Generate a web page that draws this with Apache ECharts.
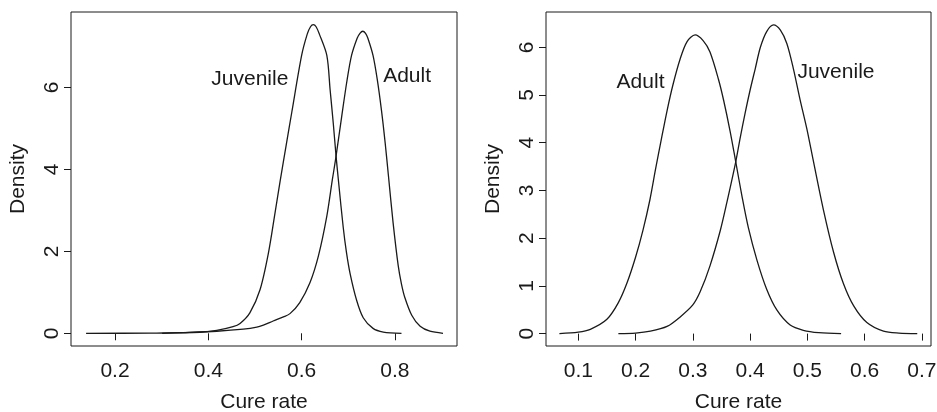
<!DOCTYPE html>
<html>

<head>
    <meta charset="utf-8">
    <title>Cure rate density</title>
    <script src="https://cdn.jsdelivr.net/npm/echarts/dist/echarts.min.js"></script>
    <style>
        body { margin: 0; background: #fff; }
        #main { width: 937px; height: 412px; }
    </style>
</head>

<body>
    <div id="main"></div>
    <script>
        // left panel: density curves
        var leftJuvX = [0.138, 0.275, 0.382, 0.418, 0.453, 0.468, 0.489, 0.511, 0.529, 0.543, 0.554, 0.567, 0.579, 0.6, 0.612, 0.619, 0.625, 0.631, 0.638, 0.654, 0.661, 0.668, 0.674, 0.68, 0.689, 0.696, 0.704, 0.718, 0.732, 0.753, 0.775, 0.814];
        var leftJuvY = [0, 0.005, 0.025, 0.07, 0.16, 0.24, 0.5, 1.07, 1.97, 2.94, 3.72, 4.6, 5.4, 6.78, 7.3, 7.48, 7.53, 7.48, 7.3, 6.78, 5.95, 5.1, 4.3, 3.6, 2.6, 1.98, 1.45, 0.8, 0.38, 0.12, 0.03, 0];
        var leftAdultX = [0.301, 0.346, 0.418, 0.475, 0.504, 0.518, 0.539, 0.561, 0.575, 0.596, 0.618, 0.636, 0.654, 0.666, 0.673, 0.686, 0.697, 0.707, 0.719, 0.725, 0.731, 0.737, 0.742, 0.753, 0.762, 0.771, 0.779, 0.786, 0.796, 0.807, 0.814, 0.821, 0.836, 0.854, 0.875, 0.903];
        var leftAdultY = [0, 0.016, 0.05, 0.1, 0.15, 0.2, 0.3, 0.4, 0.48, 0.75, 1.24, 1.89, 2.86, 3.76, 4.26, 5.3, 6.15, 6.78, 7.2, 7.32, 7.37, 7.32, 7.2, 6.78, 6.2, 5.45, 4.65, 3.85, 2.7, 1.65, 1.2, 0.88, 0.44, 0.17, 0.05, 0];

        // right panel
        var rightAdultX = [0.067, 0.1, 0.121, 0.15, 0.17, 0.185, 0.2, 0.213, 0.225, 0.235, 0.245, 0.255, 0.265, 0.278, 0.29, 0.304, 0.318, 0.33, 0.345, 0.354, 0.365, 0.375, 0.386, 0.397, 0.412, 0.429, 0.447, 0.47, 0.493, 0.52, 0.559];
        var rightAdultY = [0, 0.03, 0.09, 0.3, 0.65, 1.06, 1.6, 2.17, 2.8, 3.45, 4.07, 4.67, 5.2, 5.76, 6.12, 6.26, 6.14, 5.9, 5.32, 4.88, 4.25, 3.6, 2.87, 2.22, 1.54, 0.93, 0.49, 0.18, 0.07, 0.02, 0];
        var rightJuvX = [0.17, 0.2, 0.226, 0.255, 0.278, 0.3, 0.313, 0.33, 0.348, 0.3595, 0.375, 0.383, 0.391, 0.4, 0.409, 0.418, 0.429, 0.441, 0.453, 0.4642, 0.4757, 0.4874, 0.499, 0.51, 0.528, 0.546, 0.563, 0.581, 0.604, 0.633, 0.66, 0.692];
        var rightJuvY = [0, 0.01, 0.05, 0.15, 0.35, 0.6, 0.88, 1.42, 2.16, 2.75, 3.6, 4.12, 4.6, 5.1, 5.55, 6.0, 6.33, 6.47, 6.36, 6.08, 5.55, 4.9, 4.3, 3.65, 2.6, 1.7, 1.05, 0.58, 0.23, 0.05, 0.01, 0];

        // tick labels
        var leftXTicks = [0.2, 0.4, 0.6, 0.8];
        var leftYTicks = [0, 2, 4, 6];
        var rightXTicks = [0.1, 0.2, 0.3, 0.4, 0.5, 0.6, 0.7];
        var rightYTicks = [0, 1, 2, 3, 4, 5, 6];

        // curve annotations [x, y, text]
        var leftNotes = [[0.489, 6.19, 'Juvenile'], [0.826, 6.28, 'Adult']];
        var rightNotes = [[0.2087, 5.26, 'Adult'], [0.55, 5.48, 'Juvenile']];

        function zip(xs, ys) {
            var out = [];
            for (var i = 0; i < xs.length; i++) out.push([xs[i], ys[i]]);
            return out;
        }

        var ink = '#1a1a1a';
        var font = 'Liberation Sans, Arial, sans-serif';

        function xAxisFor(idx, min, max, ticks) {
            return {
                type: 'value', gridIndex: idx, min: min, max: max,
                name: 'Cure rate', nameLocation: 'middle', nameGap: 46,
                nameTextStyle: { color: ink, fontSize: 21, fontFamily: font },
                axisLine: { show: false },
                splitLine: { show: false },
                axisTick: { show: true, length: 7, lineStyle: { color: ink }, customValues: ticks },
                axisLabel: { color: ink, fontSize: 21, fontFamily: font, margin: 15, customValues: ticks }
            };
        }

        function yAxisFor(idx, min, max, ticks) {
            return {
                type: 'value', gridIndex: idx, min: min, max: max,
                name: 'Density', nameLocation: 'middle', nameGap: 42,
                nameTextStyle: { color: ink, fontSize: 21, fontFamily: font },
                axisLine: { show: false },
                splitLine: { show: false },
                axisTick: { show: true, length: 7, lineStyle: { color: ink }, customValues: ticks },
                axisLabel: { color: ink, fontSize: 21, fontFamily: font, margin: 8, rotate: 90, customValues: ticks }
            };
        }

        function curve(idx, xs, ys) {
            return {
                type: 'line', xAxisIndex: idx, yAxisIndex: idx,
                data: zip(xs, ys), showSymbol: false, smooth: 0.3,
                lineStyle: { color: ink, width: 1.3 }, silent: true
            };
        }

        var myChart = echarts.init(document.getElementById('main'));
        myChart.setOption({
            animation: false,
            backgroundColor: '#fff',
            grid: [
                { left: 71, top: 12, width: 386, height: 334, show: true, borderColor: ink, borderWidth: 1, outerBoundsMode: 'none' },
                { left: 546, top: 12, width: 385, height: 334, show: true, borderColor: ink, borderWidth: 1, outerBoundsMode: 'none' }
            ],
            xAxis: [
                xAxisFor(0, 0.1057, 0.933, leftXTicks),
                xAxisFor(1, 0.0436, 0.716, rightXTicks)
            ],
            yAxis: [
                yAxisFor(0, -0.31, 7.84, leftYTicks),
                yAxisFor(1, -0.26, 6.74, rightYTicks)
            ],
            series: [
                curve(0, leftJuvX, leftJuvY),
                curve(0, leftAdultX, leftAdultY),
                curve(1, rightAdultX, rightAdultY),
                curve(1, rightJuvX, rightJuvY)
            ]
        });

        // curve names placed at data coordinates, centred like R's text()
        var texts = [];
        [[0, leftNotes], [1, rightNotes]].forEach(function (p) {
            p[1].forEach(function (n) {
                var pt = myChart.convertToPixel({ gridIndex: p[0] }, [n[0], n[1]]);
                texts.push({
                    type: 'text', x: pt[0], y: pt[1], silent: true,
                    style: { text: n[2], fill: ink, fontSize: 21, fontFamily: font, align: 'center', verticalAlign: 'middle' }
                });
            });
        });
        myChart.setOption({ graphic: texts });
    </script>
</body>

</html>
